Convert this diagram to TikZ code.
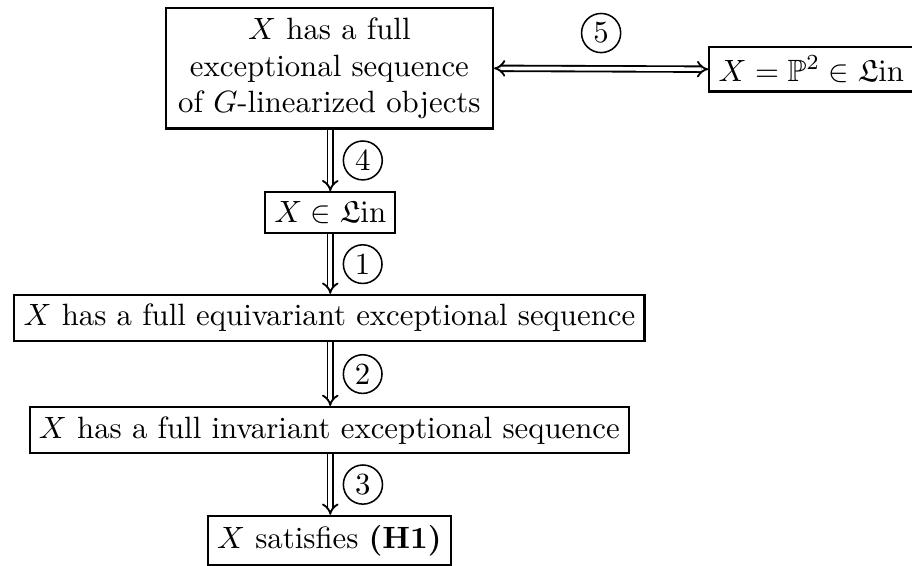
\documentclass[tikz,border=0pt]{standalone}
\usepackage{amssymb,amsmath}
\usetikzlibrary{arrows.meta,positioning}
\tikzset{
  box/.style={draw,line width=0.7pt,align=center,inner sep=3pt},
  imp/.style={line width=0.6pt,double,double distance=1.2pt,-{Implies}},
  num/.style={draw,circle,line width=0.5pt,inner sep=1.5pt}
}
\begin{document}
\begin{tikzpicture}
  \useasboundingbox (0,0) rectangle (10.41,-6.45);
  \node[box,inner xsep=4pt] (full) at (3.76,-0.78) {$X$ has a full\\exceptional sequence\\of $G$-linearized objects};
  \node[box] (ptwo) at (9.26,-0.79) {$X=\mathbb{P}^2\in\mathfrak{L}\mathrm{in}$};
  \node[box] (lin) at (3.77,-2.43) {$X\in\mathfrak{L}\mathrm{in}$};
  \node[box] (equi) at (3.76,-3.63) {$X$ has a full equivariant exceptional sequence};
  \node[box] (inv) at (3.76,-4.91) {$X$ has a full invariant exceptional sequence};
  \node[box] (hone) at (3.76,-6.17) {$X$ satisfies \textbf{(H1)}};
  \draw[imp,{Implies}-{Implies}] (full.east) -- node[num,above=5pt] {5} (ptwo.west);
  \draw[imp] (full.south -| lin.north) -- node[num,right=4pt] {4} (lin.north);
  \draw[imp] (lin.south) -- node[num,right=4pt] {1} (lin.south |- equi.north);
  \draw[imp] (lin.south |- equi.south) -- node[num,right=4pt] {2} (lin.south |- inv.north);
  \draw[imp] (lin.south |- inv.south) -- node[num,right=4pt] {3} (lin.south |- hone.north);
\end{tikzpicture}
\end{document}
